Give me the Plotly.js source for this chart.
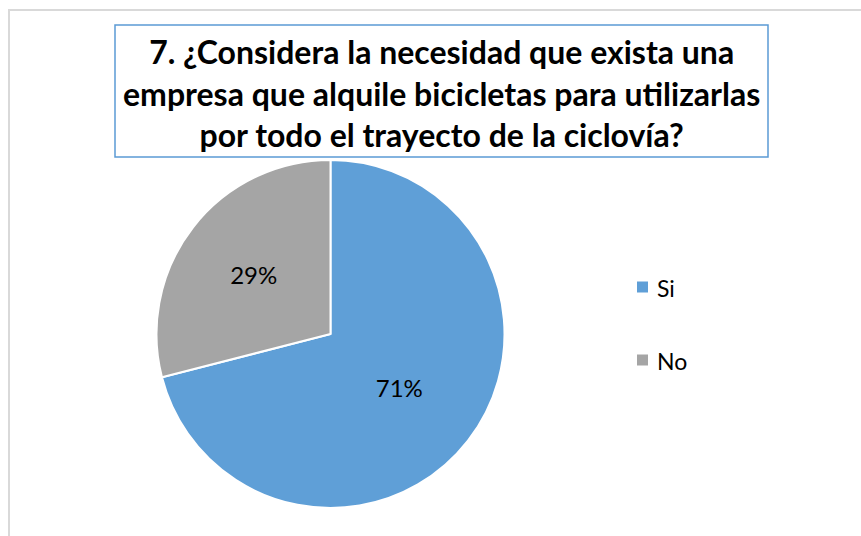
<!DOCTYPE html>
<html>
<head>
<meta charset="utf-8">
<script src="https://cdn.plot.ly/plotly-3.0.1.min.js"></script>
<style>html,body{margin:0;padding:0;background:#fff;}#chart{width:861px;height:536px;}</style>
</head>
<body>
<div id="chart"></div>
<script>
const titleLines = ["7. ¿Considera la necesidad que exista una", "empresa que alquile bicicletas para utilizarlas", "por todo el trayecto de la ciclovía?"];
const categories = ["Si", "No"];
const values = [71, 29];
const colors = ["#5F9FD7", "#A5A5A5"];

const W = 861, H = 536;
const px = x => x / W;
const py = y => 1 - y / H;

const shapes = [
  {type: "rect", xref: "paper", yref: "paper", x0: px(9), x1: px(880), y0: py(10), y1: py(560),
   line: {color: "#D9D9D9", width: 2}, fillcolor: "rgba(0,0,0,0)"},
  {type: "rect", xref: "paper", yref: "paper", x0: px(115), x1: px(768), y0: py(25), y1: py(157),
   line: {color: "#5B9BD5", width: 1.5}, fillcolor: "rgba(0,0,0,0)"}
];
const annotations = [
  {xref: "paper", yref: "paper", x: px(441), y: py(93), xanchor: "center", yanchor: "middle",
   text: "<b>" + titleLines.join("<br>") + "</b>", showarrow: false,
   font: {family: "Lato, sans-serif", size: 32, color: "#000"}}
];
const legendY = [287, 360];
categories.forEach((c, i) => {
  shapes.push({type: "rect", xref: "paper", yref: "paper",
    x0: px(637), x1: px(648), y0: py(legendY[i] - 5.5), y1: py(legendY[i] + 5.5),
    fillcolor: colors[i], line: {width: 0}});
  annotations.push({xref: "paper", yref: "paper", x: px(655), y: py(legendY[i] + 1),
    xanchor: "left", yanchor: "middle", text: c, showarrow: false,
    font: {family: "Lato, sans-serif", size: 23, color: "#000"}});
});

const data = [{
  type: "pie",
  labels: categories,
  values: values,
  sort: false,
  direction: "clockwise",
  rotation: 0,
  marker: {colors: colors, line: {color: "#fff", width: 2}},
  textinfo: "percent",
  texttemplate: "%{percent:.0%}",
  textposition: "inside",
  insidetextorientation: "horizontal",
  textfont: {family: "Lato, sans-serif", size: 24, color: "#000"},
  domain: {x: [px(156.5), px(504.5)], y: [py(508), py(160)]},
  showlegend: false,
  hoverinfo: "label+percent"
}];

const layout = {
  width: W, height: H,
  margin: {l: 0, r: 0, t: 0, b: 0},
  paper_bgcolor: "#fff",
  showlegend: false,
  shapes: shapes,
  annotations: annotations
};
Plotly.newPlot("chart", data, layout, {displayModeBar: false, staticPlot: true});
</script>
</body>
</html>
